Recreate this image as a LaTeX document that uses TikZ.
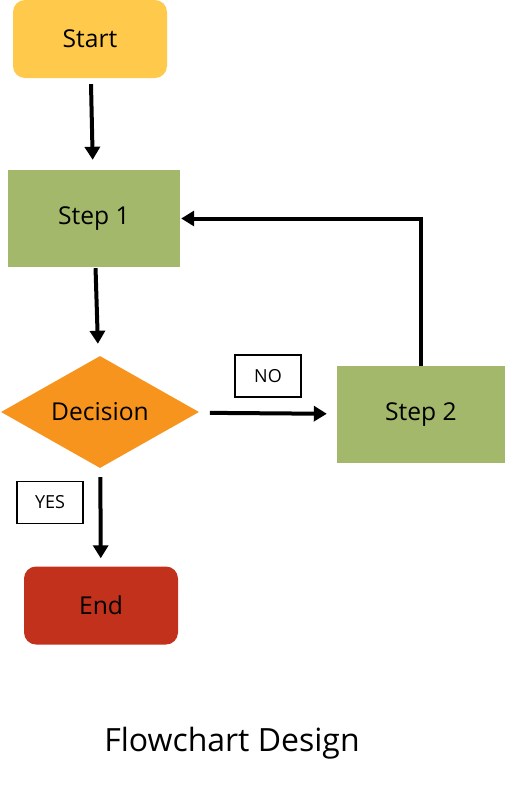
\documentclass[tikz,border=0pt]{standalone}
\usepackage{fontspec}
\setmainfont{Open Sans}
\usetikzlibrary{arrows.meta,shapes.geometric}
\definecolor{startc}{HTML}{FFC94C}
\definecolor{stepc}{HTML}{A3B86B}
\definecolor{decisionc}{HTML}{F7941E}
\definecolor{endc}{HTML}{C2311B}

\begin{document}
\begin{tikzpicture}[x=1pt,y=-1pt,
  txt/.style={font=\fontsize{24.6}{30}\selectfont},
  term/.style={txt,rounded corners=12pt,minimum width=154pt,minimum height=78pt,inner sep=0pt},
  stepbox/.style={txt,fill=stepc,minimum width=172pt,minimum height=97pt,inner sep=0pt},
  tag/.style={draw,line width=1.5pt,font=\fontsize{18}{22}\selectfont,minimum width=66pt,minimum height=42pt,inner sep=0pt},
  flow/.style={line width=4pt,-{Triangle[length=13pt,width=15pt]}}]
  \useasboundingbox (0,0) rectangle (505,788);
  \node[term,fill=startc] (start) at (90,39) {Start};
  \node[stepbox] (step1) at (94,218.5) {Step 1};
  \node[diamond,txt,fill=decisionc,aspect=1.77,minimum width=198pt,minimum height=112pt,inner sep=0pt] (decision) at (100,412) {Decision};
  \node[stepbox,minimum width=168pt] (step2) at (421,414.5) {Step 2};
  \node[term,fill=endc] (stop) at (101,605.5) {End};
  \node[tag] (no) at (268,376) {NO};
  \node[tag] (yes) at (50,502.5) {YES};
  \node[font=\fontsize{32}{38}\selectfont] (title) at (232,743) {Flowchart Design};
  % connectors
  \draw[flow,shorten <=6pt,shorten >=10pt] (start) -- (step1);
  \draw[flow,shorten <=1pt,shorten >=13pt] (step1) -- (decision);
  \draw[flow,shorten <=12pt,shorten >=10pt] (decision) -- (step2);
  \draw[flow,shorten <=9pt,shorten >=8pt] (decision) -- (stop);
  \draw[flow,shorten >=1pt] (step2.north) |- (step1.east);
\end{tikzpicture}
\end{document}
